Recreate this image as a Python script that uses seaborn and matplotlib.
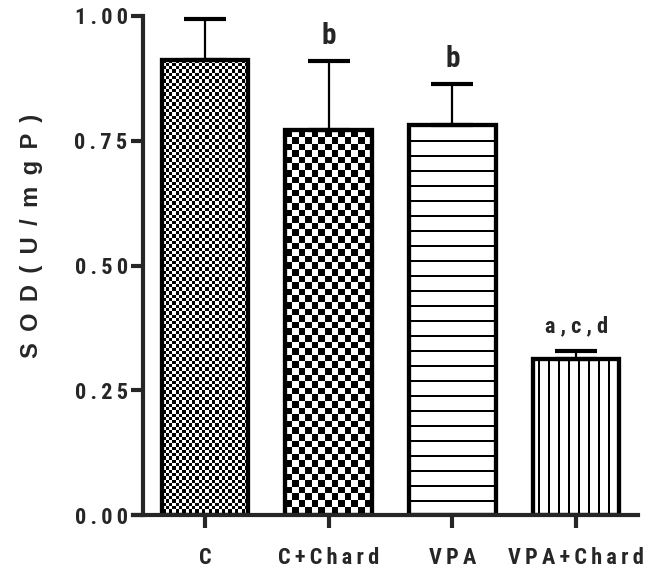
import numpy as np
import matplotlib
matplotlib.use("Agg")
import matplotlib.pyplot as plt
import seaborn as sns

groups = ["C", "C+Chard", "VPA", "VPA+Chard"]
means = [0.912, 0.771, 0.781, 0.312]
errs = [0.081, 0.139, 0.083, 0.017]
letters = ["", "b", "b", "a,c,d"]
yticks = [0.00, 0.25, 0.50, 0.75, 1.00]
patterns = ["fine_check", "coarse_check", "hlines", "vlines"]

sns.set_style("ticks")
plt.rcParams["font.family"] = ["Roboto Condensed", "DejaVu Sans"]
plt.rcParams["font.weight"] = "bold"

def spaced(s, sep="\u2009"):
    return sep.join(s)

def pattern_img(kind, h, w):
    i, j = np.mgrid[0:h, 0:w]
    if kind == "fine_check":
        c = 3.3
        a = ((np.floor(i / c) + np.floor(j / c)) % 2)
    elif kind == "coarse_check":
        c = 6.6
        a = ((np.floor(i / c) + np.floor(j / c)) % 2)
    elif kind == "hlines":
        a = ((i % 15) >= 2).astype(float)
    else:
        a = (((j + 5) % 10) >= 2).astype(float)
    return a

fig = plt.figure(figsize=(6.55, 5.75), dpi=100)
ax = fig.add_axes([143 / 655, 60 / 575, 495 / 655, 499 / 575])

sns.barplot(x=groups, y=means, ax=ax, color="white", edgecolor="black",
            linewidth=3.1, width=0.7, errorbar=None, saturation=1)
ax.set_xlim(-0.5, 3.5)
ax.set_ylim(0, 1.0)

# fill the bars with the pattern images, clipped to each bar
fig.canvas.draw()
for patch, kind in zip(ax.patches, patterns):
    x0, y0 = patch.get_x(), patch.get_y()
    x1, y1 = x0 + patch.get_width(), y0 + patch.get_height()
    (px0, py0), (px1, py1) = ax.transData.transform([(x0, y0), (x1, y1)])
    w, h = int(round(px1 - px0)), int(round(py1 - py0))
    img = pattern_img(kind, h, w)
    im = ax.imshow(img, cmap="gray", vmin=0, vmax=1, extent=(x0, x1, y0, y1),
                   aspect="auto", interpolation="nearest", zorder=0.5)
    im.set_clip_path(patch)
    patch.set_facecolor("none")
    patch.set_zorder(1)

ax.errorbar(range(len(groups)), means, yerr=[np.zeros(len(errs)), errs],
            fmt="none", ecolor="black", elinewidth=1.6, capsize=14.8,
            capthick=3.0, zorder=0.9)

for i, (m, e, t) in enumerate(zip(means, errs, letters)):
    if t:
        big = len(t) == 1
        ax.annotate(spaced(t, " ") if not big else t, (i, m + e),
                    xytext=(0, 8 if big else 10), textcoords="offset points",
                    ha="center", va="bottom", fontsize=21 if big else 16,
                    fontweight="bold")

ax.set_yticks(yticks)
ax.set_yticklabels([spaced(f"{v:.2f}") for v in yticks], fontsize=16)
ax.set_xticks(range(len(groups)))
ax.set_xticklabels([spaced(g) for g in groups], fontsize=16)
ax.set_ylabel(" \u2009".join("SOD(U/mgP)"), fontsize=17, fontweight="bold",
              family=["Liberation Sans", "DejaVu Sans"])
ax.yaxis.set_label_coords(-0.202, 0.559)
ax.set_xlabel("")

for s in ["top", "right"]:
    ax.spines[s].set_visible(False)
for s in ["left", "bottom"]:
    ax.spines[s].set_linewidth(3.0)
ax.spines["bottom"].set_bounds(-0.58, 3.5)
ax.tick_params(axis="y", length=9, width=3.0, pad=2)
ax.tick_params(axis="x", length=9, width=3.0, pad=14)

fig.savefig("out.png", dpi=100)
